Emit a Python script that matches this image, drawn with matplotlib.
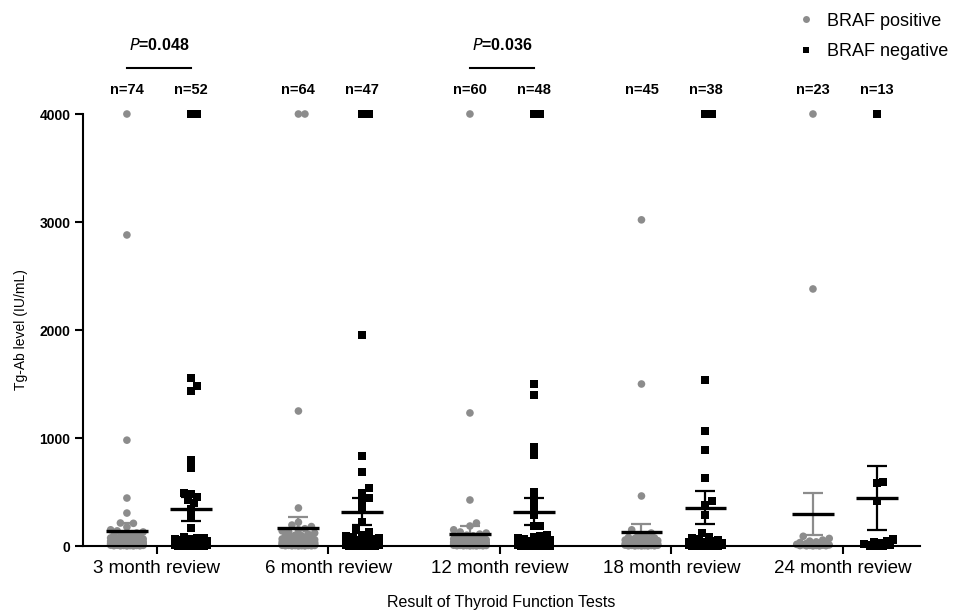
import numpy as np
import matplotlib
matplotlib.use('Agg')
import matplotlib.pyplot as plt
from matplotlib.lines import Line2D

plt.rcParams['font.family'] = ['Liberation Sans', 'DejaVu Sans']

groups = ['3 month review', '6 month review', '12 month review', '18 month review', '24 month review']
n_pos = [74, 64, 60, 45, 23]
n_neg = [52, 47, 48, 38, 13]

pos_3m = [4000, 2880, 980, 444, 305, 213, 210, 176, 150, 140, 130, 120, 110, 100, 95, 90, 85, 80, 75, 70,
          68, 65, 62, 60, 58, 55, 52, 50, 48, 45, 43, 40, 38, 36, 35, 33, 32, 30, 29, 28, 27, 26, 25, 24,
          23, 22, 21, 20, 19, 18, 17, 16, 15, 15, 14, 13, 12, 12, 11, 10, 10, 9, 8, 8, 7, 6, 5, 5, 4, 3,
          2, 2, 1, 1]
neg_3m = [4000, 4000, 1555, 1481, 1435, 796, 722, 490, 481, 453, 426, 398, 342, 268, 167,
          80, 75, 70, 65, 60, 55, 50, 46, 42, 38, 35, 32, 30, 28, 26, 24, 22, 20, 18, 16, 15, 14, 13,
          12, 11, 10, 9, 8, 7, 6, 5, 5, 4, 3, 2, 1, 1]
pos_6m = [4000, 4000, 1250, 352, 220, 194, 180, 160, 150, 140, 130, 120, 110, 100,
          95, 90, 85, 80, 75, 70, 65, 60, 58, 55, 52, 50, 48, 45, 42, 40, 38, 36, 34, 32, 30, 28, 26,
          25, 24, 22, 20, 19, 18, 17, 16, 15, 14, 13, 12, 11, 10, 9, 8, 7, 6, 5, 5, 4, 3, 3, 2, 2, 1, 1]
neg_6m = [4000, 4000, 1954, 833, 688, 537, 490, 444, 398, 333, 222, 148, 130,
          100, 90, 80, 72, 65, 58, 52, 47, 42, 38, 34, 30, 27, 24, 22, 20, 18, 16, 14, 12, 11, 10, 9,
          8, 7, 6, 5, 5, 4, 3, 2, 2, 1, 1]
pos_12m = [4000, 1232, 426, 213, 185, 150, 130, 120, 110, 100,
           95, 90, 85, 80, 75, 70, 65, 60, 58, 55, 52, 50, 48, 45, 42, 40, 38, 36, 34, 32, 30, 28, 26,
           25, 24, 22, 20, 19, 18, 17, 16, 15, 14, 13, 12, 11, 10, 9, 8, 7, 6, 5, 5, 4, 3, 3, 2, 2, 1, 1]
neg_12m = [4000, 4000, 1500, 1398, 920, 843, 500, 435, 361, 287, 185, 185,
           100, 90, 80, 72, 65, 58, 52, 47, 42, 38, 34, 30, 27, 24, 22, 20, 18, 16, 14, 12, 11, 10, 9,
           8, 7, 6, 5, 5, 4, 3, 3, 2, 2, 1, 1, 1]
pos_18m = [3020, 1500, 463, 150, 120, 100,
           90, 80, 75, 70, 65, 60, 55, 50, 46, 42, 38, 35, 32, 30, 28, 26, 24, 22, 20, 18, 16, 15, 14,
           13, 12, 11, 10, 9, 8, 7, 6, 5, 4, 3, 2, 2, 1, 1, 1]
neg_18m = [4000, 4000, 1537, 1065, 889, 627, 420, 380, 287, 120,
           80, 70, 60, 52, 45, 40, 35, 30, 26, 22, 20, 18, 16, 14, 12, 10, 9, 8, 7, 6, 5, 4, 3, 3, 2,
           2, 1, 1]
pos_24m = [4000, 2380, 90, 70, 55, 45, 38, 32, 28, 24, 20, 18, 15, 12, 10, 8, 6, 5, 4, 3, 2, 1, 1]
neg_24m = [4000, 595, 585, 417, 60, 45, 35, 25, 15, 10, 5, 3, 1]

pos_data = [pos_3m, pos_6m, pos_12m, pos_18m, pos_24m]
neg_data = [neg_3m, neg_6m, neg_12m, neg_18m, neg_24m]

# mean and SEM as drawn in the figure
pos_mean = [140, 167, 111, 130, 296]
pos_sem = [70, 100, 75, 75, 195]
neg_mean = [345, 315, 317, 355, 445]
neg_sem = [110, 125, 125, 150, 300]

p_labels = {0: '0.048', 2: '0.036'}

GREY = '#8c8c8c'
PX_X = 171.5   # pixels per category unit
PX_Y = 0.108   # pixels per IU/mL


def swarm(vals, center, half_w, diam):
    vals = np.asarray(vals, float)
    step = diam / 2.0
    cands = [0.0]
    k = 1
    while k * step <= half_w:
        cands += [k * step, -k * step]
        k += 1
    placed = []
    xs = np.zeros(len(vals))
    for i in np.argsort(vals, kind='stable'):
        y = vals[i] * PX_Y
        best, best_d = None, -1
        for c in cands:
            d = min([np.hypot(c - px, y - py) for px, py in placed] or [1e9])
            if d >= diam:
                best = c
                break
            if d > best_d:
                best_d, best_c = d, c
        if best is None:
            best = best_c
        placed.append((best, y))
        xs[i] = center + best / PX_X
    return xs


fig = plt.figure(figsize=(9.59, 6.12), dpi=100)
ax = fig.add_axes([83 / 959, 1 - 546 / 612, (920 - 83) / 959, (546 - 114) / 612])

xc = np.arange(len(groups))
off_pos = -0.175
off_neg = 0.198

for i in range(len(groups)):
    xp = xc[i] + off_pos
    xn = xc[i] + off_neg
    sx = swarm(pos_data[i], xp, 19, 6.5)
    ax.scatter(sx, pos_data[i], s=30, marker='o', color=GREY, edgecolors='none', clip_on=False, zorder=2)
    sx = swarm(neg_data[i], xn, 17, 6.5)
    ax.scatter(sx, neg_data[i], s=34, marker='s', color='black', edgecolors='none', clip_on=False, zorder=2)

    ax.errorbar(xp, pos_mean[i], yerr=pos_sem[i], fmt='none', ecolor=GREY, elinewidth=1.6,
                capsize=7, capthick=1.6, zorder=3)
    ax.hlines(pos_mean[i], xp - 0.122, xp + 0.122, color='black', lw=2.4, zorder=4)
    ax.errorbar(xn, neg_mean[i], yerr=neg_sem[i], fmt='none', ecolor='black', elinewidth=1.6,
                capsize=7, capthick=1.6, zorder=3)
    ax.hlines(neg_mean[i], xn - 0.122, xn + 0.122, color='black', lw=2.4, zorder=4)

    ax.text(xp, 4222, 'n=%d' % n_pos[i], ha='center', va='center', fontsize=10.5, fontweight='bold')
    ax.text(xn, 4222, 'n=%d' % n_neg[i], ha='center', va='center', fontsize=10.5, fontweight='bold')

    if i in p_labels:
        ax.plot([xp, xn], [4426, 4426], color='black', lw=1.5, clip_on=False)
        ax.text((xp + xn) / 2, 4640, r'$\bf{\it{P}}$' + '=' + p_labels[i], ha='center', va='center',
                fontsize=11.5, fontweight='bold')

ax.set_xlim(-0.431, 4.449)
ax.set_ylim(0, 4000)
ax.set_yticks([0, 1000, 2000, 3000, 4000])
ax.set_xticks(xc)
ax.set_xticklabels(groups, fontsize=13.5)
for lab in ax.get_yticklabels():
    lab.set_fontweight('bold')
    lab.set_fontsize(10)
ax.tick_params(axis='both', length=6, width=1.5, direction='out', pad=3)
ax.tick_params(axis='x', pad=4)
ax.spines['top'].set_visible(False)
ax.spines['right'].set_visible(False)
ax.spines['left'].set_linewidth(1.5)
ax.spines['bottom'].set_linewidth(1.5)
ax.spines['left'].set_bounds(0, 4000)

ax.set_ylabel('Tg-Ab level (IU/mL)', fontsize=10, labelpad=8)
ax.set_xlabel('Result of Thyroid Function Tests', fontsize=11.5, labelpad=13)

handles = [Line2D([], [], marker='o', ls='none', color=GREY, markersize=5, markeredgewidth=0),
           Line2D([], [], marker='s', ls='none', color='black', markersize=5, markeredgewidth=0)]
fig.legend(handles, ['BRAF positive', 'BRAF negative'], loc='upper left', bbox_to_anchor=(0.812, 1.009),
           frameon=False, fontsize=13, handletextpad=0.7, labelspacing=0.75, handlelength=1.0,
           borderpad=0.5)

fig.savefig('out.png', dpi=100)
